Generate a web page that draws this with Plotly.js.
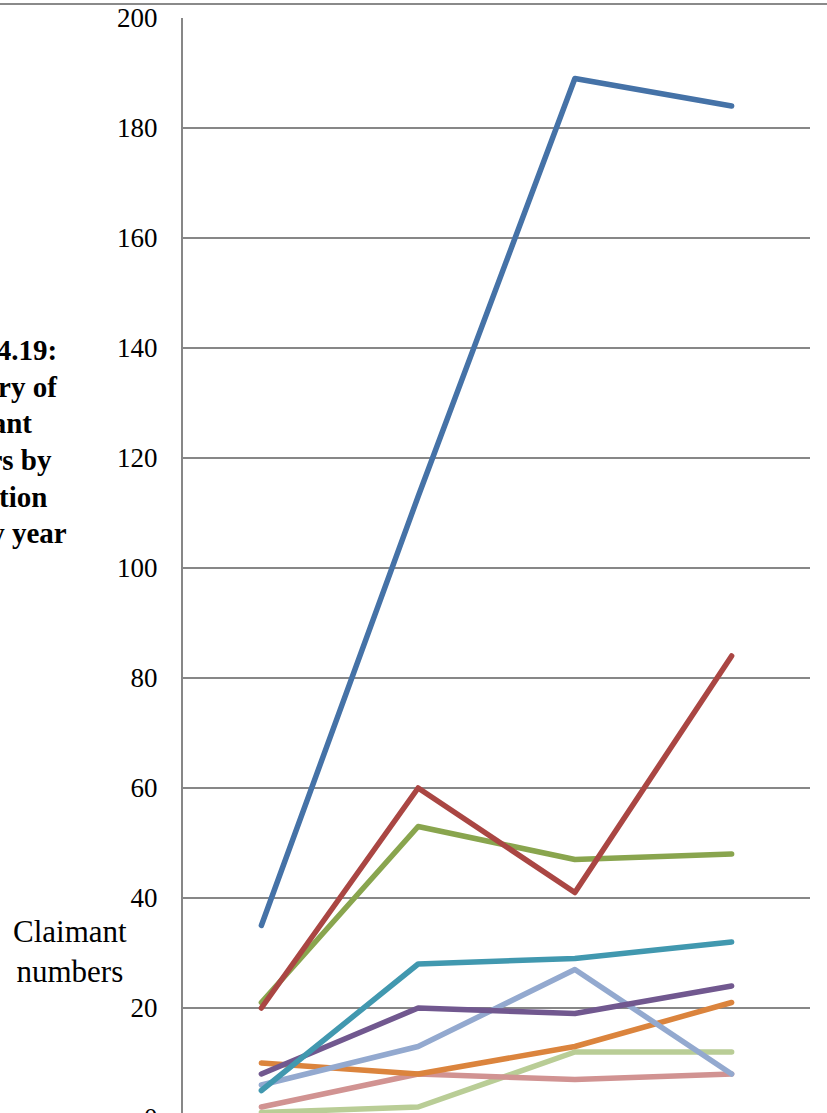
<!DOCTYPE html>
<html>
<head>
<meta charset="utf-8">
<script src="https://cdn.plot.ly/plotly-3.0.1.min.js"></script>
<style>
  html, body { margin: 0; padding: 0; overflow: hidden; background: #fff; }
  #topline { position: absolute; left: 0; top: 3px; width: 827px; height: 2px; background: #8a8a8a; z-index: 5; }
  #chart { width: 827px; height: 1160px; }
  .js-line { stroke-linecap: round; stroke-linejoin: round; }
</style>
</head>
<body>
<div id="topline"></div>
<div id="chart"></div>
<script>
// Categories (years) — labels fall below the visible crop
const years = ["Year 1", "Year 2", "Year 3", "Year 4"];

// Series values
const seriesBlue       = [35, 113, 189, 184];
const seriesRed        = [20, 60, 41, 84];
const seriesGreen      = [21, 53, 47, 48];
const seriesTeal       = [5, 28, 29, 32];
const seriesPurple     = [8, 20, 19, 24];
const seriesLightBlue  = [6, 13, 27, 8];
const seriesOrange     = [10, 8, 13, 21];
const seriesPink       = [2, 8, 7, 8];
const seriesLightGreen = [1, 2, 12, 12];

const seriesNames = ["Series 1","Series 2","Series 3","Series 4","Series 5","Series 6","Series 7","Series 8","Series 9"];
const seriesData = [seriesBlue, seriesRed, seriesGreen, seriesTeal, seriesPurple, seriesLightBlue, seriesOrange, seriesPink, seriesLightGreen];
const seriesColors = ["#4572A7", "#AA4643", "#89A54E", "#4198AF", "#71588F", "#93A9CF", "#DB843D", "#D19392", "#B9CD96"];

const yTicks = [0, 20, 40, 60, 80, 100, 120, 140, 160, 180, 200];

const traces = seriesData.map((vals, i) => ({
  type: "scatter",
  mode: "lines",
  x: years,
  y: vals,
  name: seriesNames[i],
  line: { color: seriesColors[i], width: 5.5 },
  hoverinfo: "skip"
}));

const W = 827, H = 1160;
const M = { l: 183, r: 17, t: 18, b: 42 };
const pw = W - M.l - M.r, ph = H - M.t - M.b;
const px = x => (x - M.l) / pw;
const py = y => (H - M.b - y) / ph;

const titleLines = [
  { text: "Figure 4.19:", right: 59, y: 350 },
  { text: "Summary of", right: 59, y: 387 },
  { text: "claimant", right: 34, y: 423 },
  { text: "numbers by", right: 54, y: 460 },
  { text: "occupation", right: 49, y: 497 },
  { text: "by year", right: 69, y: 533 }
];

const annotations = titleLines.map(l => ({
  xref: "paper", yref: "paper",
  x: px(l.right), y: py(l.y),
  xanchor: "right", yanchor: "middle",
  text: "<b>" + l.text + "</b>",
  showarrow: false,
  font: { family: "Liberation Serif, Times New Roman, serif", size: 29, color: "#000" }
}));

annotations.push({
  xref: "paper", yref: "paper",
  x: px(70), y: py(951),
  xanchor: "center", yanchor: "middle",
  text: "Claimant<br>numbers",
  showarrow: false,
  align: "center",
  font: { family: "Liberation Serif, Times New Roman, serif", size: 31, color: "#000" }
});

const layout = {
  width: W, height: H,
  margin: M,
  paper_bgcolor: "#fff",
  plot_bgcolor: "#fff",
  showlegend: false,
  font: { family: "Liberation Serif, Times New Roman, serif", color: "#000" },
  xaxis: {
    type: "category",
    range: [-0.5, 3.5],
    showgrid: false,
    showline: false,
    zeroline: false,
    showticklabels: false,
    fixedrange: true
  },
  yaxis: {
    range: [0, 200],
    tickvals: yTicks,
    ticktext: yTicks.map(String),
    showgrid: true,
    gridcolor: "#878787",
    gridwidth: 1.5,
    showline: true,
    linecolor: "#878787",
    linewidth: 2,
    zeroline: false,
    ticks: "",
    ticklabelstandoff: 18,
    tickfont: { family: "Liberation Serif, Times New Roman, serif", size: 27, color: "#000" },
    fixedrange: true
  },
  annotations: annotations
};

Plotly.newPlot("chart", traces.slice().reverse(), layout, { displayModeBar: false, staticPlot: true });
</script>
</body>
</html>
